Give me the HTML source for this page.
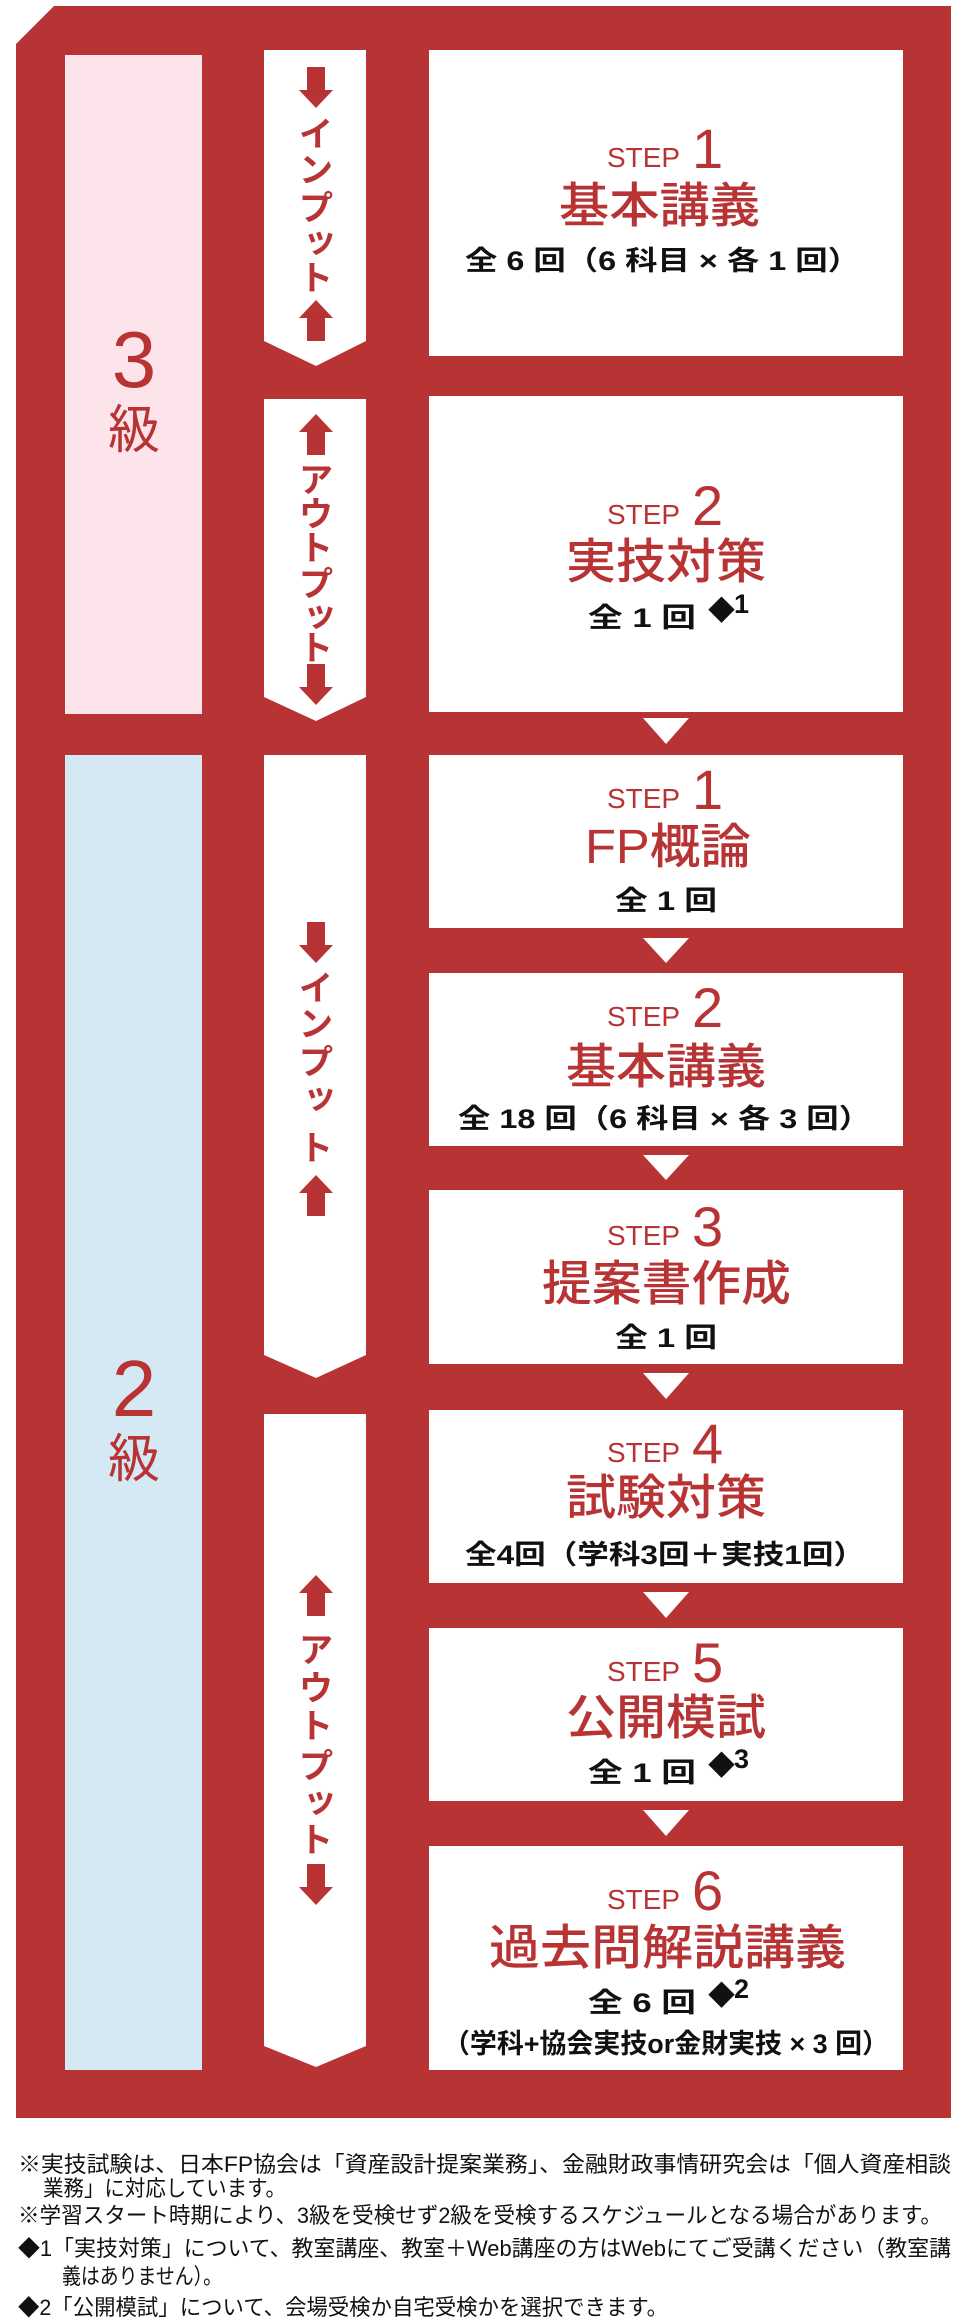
<!DOCTYPE html>
<html><head><meta charset="utf-8"><style>
html,body{margin:0;padding:0;background:#fff;}
svg{display:block;}
text{font-family:"Liberation Sans","Noto Sans CJK JP",sans-serif;}
.st{fill:#b83334;font-size:28px;}
.num{fill:#b83334;font-size:56px;}
.ti{fill:#b83334;font-size:48px;font-weight:500;}
.de{fill:#111;font-size:27px;font-weight:bold;}
.ar{fill:#b83334;font-size:34px;font-weight:bold;}
.fn{fill:#111;font-size:22px;}
</style></head><body>
<svg width="960" height="2320" viewBox="0 0 960 2320" xmlns="http://www.w3.org/2000/svg">
<polygon points="54,6 951,6 951,2118 16,2118 16,44" fill="#b83334"/>
<rect x="65" y="55" width="137" height="659" fill="#fce4ea"/>
<rect x="65" y="755" width="137" height="1315" fill="#d5e9f4"/>
<text x="134" y="387" text-anchor="middle" fill="#b83334" font-size="80">3</text>
<text x="134" y="448" text-anchor="middle" fill="#b83334" font-size="52" font-family="Noto Sans CJK JP">級</text>
<text x="134" y="1416" text-anchor="middle" fill="#b83334" font-size="80">2</text>
<text x="134" y="1477" text-anchor="middle" fill="#b83334" font-size="52" font-family="Noto Sans CJK JP">級</text>

<polygon points="264,50 366,50 366,341 316,366 264,341" fill="#fff"/>
<polygon points="264,399 366,399 366,697 316,721 264,697" fill="#fff"/>
<polygon points="264,755 366,755 366,1355 316,1378 264,1355" fill="#fff"/>
<polygon points="264,1414 366,1414 366,2046 316,2067 264,2046" fill="#fff"/>

<defs>
<polygon id="dn" points="-9,0 9,0 9,23 17,23 0,41 -17,23 -9,23" fill="#b83334"/>
<polygon id="up" points="-9,41 9,41 9,18 17,18 0,0 -17,18 -9,18" fill="#b83334"/>
</defs>
<use href="#dn" x="316" y="67"/>
<g class="ar" text-anchor="middle">
<text x="316" y="146">イ</text><text x="316" y="182">ン</text><text x="316" y="220">プ</text><text x="320" y="252">ッ</text><text x="316" y="290">ト</text>
</g>
<use href="#up" x="316" y="300"/>
<use href="#up" x="316" y="414"/>
<g class="ar" text-anchor="middle">
<text x="316" y="492">ア</text><text x="316" y="526">ウ</text><text x="316" y="560">ト</text><text x="316" y="596">プ</text><text x="320" y="626">ッ</text><text x="316" y="660">ト</text>
</g>
<use href="#dn" x="316" y="664"/>
<use href="#dn" x="316" y="922"/>
<g class="ar" text-anchor="middle">
<text x="316" y="1000">イ</text><text x="316" y="1036">ン</text><text x="316" y="1074">プ</text><text x="320" y="1108">ッ</text><text x="316" y="1160">ト</text>
</g>
<use href="#up" x="316" y="1175"/>
<use href="#up" x="316" y="1575"/>
<g class="ar" text-anchor="middle">
<text x="316" y="1662">ア</text><text x="316" y="1700">ウ</text><text x="316" y="1738">ト</text><text x="316" y="1778">プ</text><text x="320" y="1812">ッ</text><text x="316" y="1852">ト</text>
</g>
<use href="#dn" x="316" y="1864"/>

<g fill="#fff">
<rect x="429" y="50" width="474" height="306"/>
<rect x="429" y="396" width="474" height="316"/>
<rect x="429" y="755" width="474" height="173"/>
<rect x="429" y="973" width="474" height="173"/>
<rect x="429" y="1190" width="474" height="174"/>
<rect x="429" y="1410" width="474" height="173"/>
<rect x="429" y="1628" width="474" height="173"/>
<rect x="429" y="1846" width="474" height="224"/>
<polygon points="643,718 689,718 666,744"/>
<polygon points="643,938 689,938 666,963"/>
<polygon points="643,1155 689,1155 666,1180"/>
<polygon points="643,1373 689,1373 666,1399"/>
<polygon points="643,1592 689,1592 666,1618"/>
<polygon points="643,1810 689,1810 666,1836"/>
</g>

<text class="st" x="607" y="167" textLength="73" lengthAdjust="spacingAndGlyphs">STEP</text>
<text class="num" x="692" y="168">1</text>
<text class="ti" x="559" y="222" textLength="201" lengthAdjust="spacingAndGlyphs">基本講義</text>
<text class="de" x="465" y="270" textLength="395" lengthAdjust="spacingAndGlyphs">全 6 回（6 科目 × 各 1 回）</text>

<text class="st" x="607" y="524" textLength="73" lengthAdjust="spacingAndGlyphs">STEP</text>
<text class="num" x="692" y="525">2</text>
<text class="ti" x="566" y="578" textLength="200" lengthAdjust="spacingAndGlyphs">実技対策</text>
<text class="de" x="588" y="627" textLength="108" lengthAdjust="spacingAndGlyphs">全 1 回</text>
<text class="de" x="708" y="620" font-size="18">◆</text><text class="de" x="734" y="613" font-size="15">1</text>

<text class="st" x="607" y="808" textLength="73" lengthAdjust="spacingAndGlyphs">STEP</text>
<text class="num" x="692" y="809">1</text>
<text class="ti" x="585" y="863" textLength="166" lengthAdjust="spacingAndGlyphs">FP概論</text>
<text class="de" x="615" y="910" textLength="102" lengthAdjust="spacingAndGlyphs">全 1 回</text>

<text class="st" x="607" y="1026" textLength="73" lengthAdjust="spacingAndGlyphs">STEP</text>
<text class="num" x="692" y="1027">2</text>
<text class="ti" x="566" y="1083" textLength="200" lengthAdjust="spacingAndGlyphs">基本講義</text>
<text class="de" x="458" y="1128" textLength="413" lengthAdjust="spacingAndGlyphs">全 18 回（6 科目 × 各 3 回）</text>

<text class="st" x="607" y="1245" textLength="73" lengthAdjust="spacingAndGlyphs">STEP</text>
<text class="num" x="692" y="1246">3</text>
<text class="ti" x="542" y="1300" textLength="249" lengthAdjust="spacingAndGlyphs">提案書作成</text>
<text class="de" x="615" y="1347" textLength="102" lengthAdjust="spacingAndGlyphs">全 1 回</text>

<text class="st" x="607" y="1462" textLength="73" lengthAdjust="spacingAndGlyphs">STEP</text>
<text class="num" x="692" y="1463">4</text>
<text class="ti" x="566" y="1514" textLength="200" lengthAdjust="spacingAndGlyphs">試験対策</text>
<text class="de" x="465" y="1564" textLength="400" lengthAdjust="spacingAndGlyphs">全4回（学科3回＋実技1回）</text>

<text class="st" x="607" y="1681" textLength="73" lengthAdjust="spacingAndGlyphs">STEP</text>
<text class="num" x="692" y="1682">5</text>
<text class="ti" x="566" y="1734" textLength="200" lengthAdjust="spacingAndGlyphs">公開模試</text>
<text class="de" x="588" y="1782" textLength="108" lengthAdjust="spacingAndGlyphs">全 1 回</text>
<text class="de" x="708" y="1775" font-size="18">◆</text><text class="de" x="734" y="1768" font-size="15">3</text>

<text class="st" x="607" y="1909" textLength="73" lengthAdjust="spacingAndGlyphs">STEP</text>
<text class="num" x="692" y="1910">6</text>
<text class="ti" x="489" y="1964" textLength="357" lengthAdjust="spacingAndGlyphs">過去問解説講義</text>
<text class="de" x="588" y="2012" textLength="108" lengthAdjust="spacingAndGlyphs">全 6 回</text>
<text class="de" x="708" y="2005" font-size="18">◆</text><text class="de" x="734" y="1998" font-size="15">2</text>
<text class="de" x="443" y="2053" textLength="446" lengthAdjust="spacingAndGlyphs">（学科+協会実技or金財実技 × 3 回）</text>

<text class="fn" x="18" y="2172" textLength="933" lengthAdjust="spacingAndGlyphs">※実技試験は、日本FP協会は「資産設計提案業務」、金融財政事情研究会は「個人資産相談</text>
<text class="fn" x="43" y="2196" textLength="243" lengthAdjust="spacingAndGlyphs">業務」に対応しています。</text>
<text class="fn" x="18" y="2223" textLength="924" lengthAdjust="spacingAndGlyphs">※学習スタート時期により、3級を受検せず2級を受検するスケジュールとなる場合があります。</text>
<text class="fn" x="18" y="2256" textLength="933" lengthAdjust="spacingAndGlyphs">◆1「実技対策」について、教室講座、教室＋Web講座の方はWebにてご受講ください（教室講</text>
<text class="fn" x="62" y="2284" textLength="160" lengthAdjust="spacingAndGlyphs">義はありません）。</text>
<text class="fn" x="18" y="2315" textLength="650" lengthAdjust="spacingAndGlyphs">◆2「公開模試」について、会場受検か自宅受検かを選択できます。</text>
</svg>
</body></html>
